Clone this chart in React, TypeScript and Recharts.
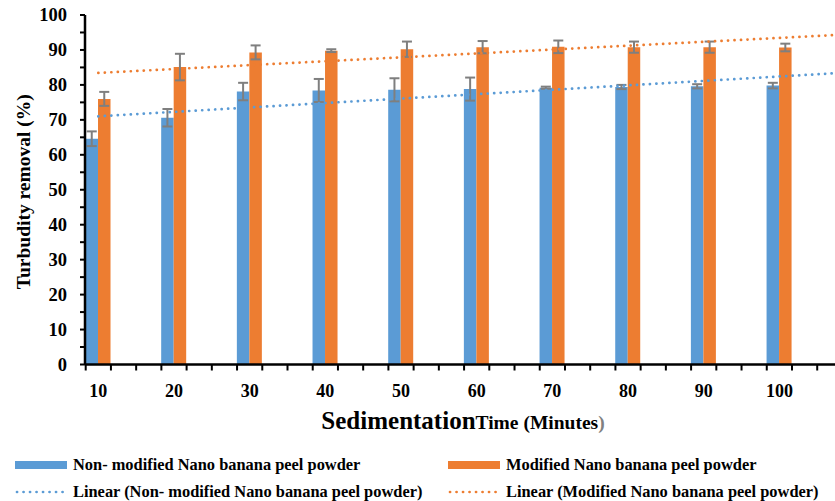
import React from "react";
import { ComposedChart, Bar, Line, XAxis, YAxis, ErrorBar, Label } from "recharts";

// sedimentation time (minutes)
const times = [10, 20, 30, 40, 50, 60, 70, 80, 90, 100];

// turbidity removal (%) with standard deviation
const nonModified = [64.6, 70.6, 78.1, 78.4, 78.6, 78.8, 79.2, 79.4, 79.6, 79.8];
const nonModifiedErr = [2.1, 2.5, 2.5, 3.3, 3.3, 3.3, 0.3, 0.6, 0.6, 0.8];
const modified = [76.0, 85.1, 89.3, 89.8, 90.2, 90.8, 90.9, 90.8, 90.8, 90.7];
const modifiedErr = [2.0, 3.8, 2.0, 0.4, 2.2, 1.75, 1.8, 1.6, 1.6, 1.1];

const yTicks = [0, 5, 10, 15, 20, 25, 30, 35, 40, 45, 50, 55, 60, 65, 70, 75, 80, 85, 90, 95, 100];
const xMinorTicks = Array.from({ length: 30 }, (_, i) => 25 / 3 + (i * 10) / 3);

const X_DOMAIN: [number, number] = [8.24, 107.35];

const BLUE = "#5B9BD5";
const ORANGE = "#ED7D31";
const ERR = "#7F7F7F";
const FONT = "'Liberation Serif', 'Times New Roman', serif";

const data = times.map((t, i) => ({
  time: t,
  non: nonModified[i],
  nonErr: nonModifiedErr[i],
  mod: modified[i],
  modErr: modifiedErr[i],
}));

// least squares trendline, same as Excel's "Linear" trendline
function linearFit(xs: number[], ys: number[]) {
  const n = xs.length;
  const mx = xs.reduce((s, v) => s + v, 0) / n;
  const my = ys.reduce((s, v) => s + v, 0) / n;
  let sxy = 0;
  let sxx = 0;
  xs.forEach((x, i) => {
    sxy += (x - mx) * (ys[i] - my);
    sxx += (x - mx) * (x - mx);
  });
  const slope = sxy / sxx;
  return (x: number) => my + slope * (x - mx);
}

const fitNon = linearFit(times, nonModified);
const fitMod = linearFit(times, modified);
const trendNon = [times[0], X_DOMAIN[1]].map((t) => ({ time: t, value: fitNon(t) }));
const trendMod = [times[0], X_DOMAIN[1]].map((t) => ({ time: t, value: fitMod(t) }));

const XTick = (props: any) => {
  const { x, y, payload } = props;
  const v = payload.value;
  if (times.includes(v)) {
    return (
      <text x={x} y={y + 26} textAnchor="middle" dominantBaseline="central" fontFamily={FONT} fontWeight="bold" fontSize={18} fill="#000">
        {v}
      </text>
    );
  }
  return <line x1={x} y1={y} x2={x} y2={y + 6} stroke="#000" strokeWidth={2} />;
};

const YTick = (props: any) => {
  const { x, y, payload } = props;
  const v = payload.value;
  return (
    <g>
      <line x1={x - 5} y1={y} x2={x} y2={y} stroke="#000" strokeWidth={2} />
      {v % 10 === 0 && (
        <text x={x - 18} y={y} textAnchor="end" dominantBaseline="central" fontFamily={FONT} fontWeight="bold" fontSize={18.5} fill="#000">
          {v}
        </text>
      )}
    </g>
  );
};

const XTitle = (props: any) => {
  const { x, y, width } = props.viewBox;
  return (
    <text x={x + width / 2 + 3} y={y + 64} textAnchor="middle" fontFamily={FONT} fontWeight="bold" fill="#000">
      <tspan fontSize={25}>Sedimentation</tspan>
      <tspan fontSize={19.5}>Time (Minutes</tspan>
      <tspan fontSize={19.5} fill="#808080">)</tspan>
    </text>
  );
};

const YTitle = (props: any) => {
  const { x, y, height } = props.viewBox;
  const cx = x + 23;
  const cy = y + height / 2 + 2;
  return (
    <text x={cx} y={cy} transform={`rotate(-90 ${cx} ${cy})`} textAnchor="middle" dominantBaseline="central" fontFamily={FONT} fontWeight="bold" fontSize={19.5} fill="#000">
      Turbudity removal (%)
    </text>
  );
};

const dotted = { strokeDasharray: "0.1 6.4", strokeLinecap: "round" as const, strokeWidth: 2.7 };

const LegendItem = ({ left, top, color, kind, text }: { left: number; top: number; color: string; kind: "bar" | "line"; text: string }) => (
  <div style={{ position: "absolute", left, top, display: "flex", alignItems: "center", height: 20 }}>
    <svg width={52} height={10} style={{ marginRight: 6 }}>
      {kind === "bar" ? (
        <rect x={0} y={1} width={52} height={8} fill={color} />
      ) : (
        <line x1={2} y1={5} x2={51} y2={5} stroke={color} {...dotted} />
      )}
    </svg>
    <span style={{ fontFamily: FONT, fontWeight: "bold", fontSize: 16.4, color: "#000", whiteSpace: "nowrap" }}>{text}</span>
  </div>
);

export default function App() {
  return (
    <div style={{ position: "relative", width: 835, height: 501, background: "#fff" }}>
      <style>{`body{margin:0}`}</style>
      <ComposedChart width={835} height={501} data={data} margin={{ top: 15, right: 0, bottom: 0, left: 0 }} barGap={0}>
        <XAxis
          dataKey="time"
          type="number"
          domain={X_DOMAIN}
          allowDataOverflow
          ticks={[...xMinorTicks, ...times].sort((a, b) => a - b)}
          interval={0}
          tick={<XTick />}
          tickLine={false}
          tickSize={0}
          tickMargin={0}
          axisLine={{ stroke: "#000", strokeWidth: 2.5 }}
          height={136.5}
        >
          <Label content={XTitle} />
        </XAxis>
        <YAxis
          type="number"
          domain={[0, 100]}
          ticks={yTicks}
          interval={0}
          tick={<YTick />}
          tickLine={false}
          tickSize={0}
          tickMargin={0}
          axisLine={{ stroke: "#000", strokeWidth: 2.5 }}
          width={85}
        >
          <Label content={YTitle} />
        </YAxis>
        <Bar dataKey="non" fill={BLUE} barSize={12.5} isAnimationActive={false}>
          <ErrorBar dataKey="nonErr" direction="y" stroke={ERR} strokeWidth={2} width={5} />
        </Bar>
        <Bar dataKey="mod" fill={ORANGE} barSize={12.5} isAnimationActive={false}>
          <ErrorBar dataKey="modErr" direction="y" stroke={ERR} strokeWidth={2} width={5} />
        </Bar>
        <Line data={trendNon} dataKey="value" stroke={BLUE} {...dotted} dot={false} activeDot={false} isAnimationActive={false} />
        <Line data={trendMod} dataKey="value" stroke={ORANGE} {...dotted} dot={false} activeDot={false} isAnimationActive={false} />
      </ComposedChart>
      <LegendItem left={15} top={455} color={BLUE} kind="bar" text="Non- modified Nano banana peel powder" />
      <LegendItem left={448} top={455} color={ORANGE} kind="bar" text="Modified Nano banana peel powder" />
      <LegendItem left={15} top={482} color={BLUE} kind="line" text="Linear (Non- modified Nano banana peel powder)" />
      <LegendItem left={448} top={482} color={ORANGE} kind="line" text="Linear (Modified Nano banana peel powder)" />
    </div>
  );
}
